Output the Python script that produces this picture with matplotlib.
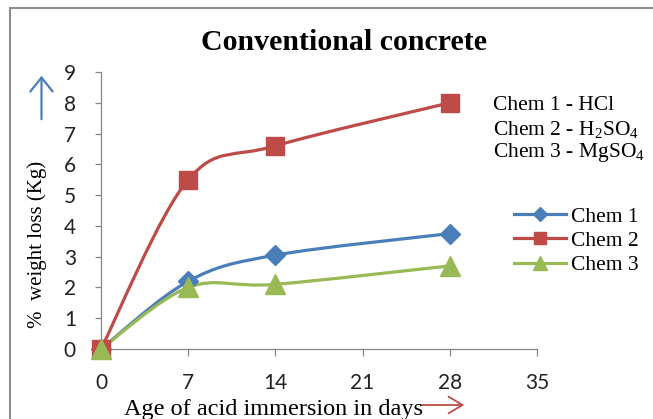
import numpy as np
import matplotlib
matplotlib.use('Agg')
import matplotlib.pyplot as plt
from matplotlib.path import Path
from matplotlib.patches import PathPatch, Rectangle
from matplotlib.lines import Line2D

# dados
dias = [0, 7, 14, 28]
chem1 = [0, 2.2, 3.05, 3.75]
chem2 = [0, 5.5, 6.6, 8.0]
chem3 = [0, 2.0, 2.1, 2.7]
rotulos = ['Chem 1', 'Chem 2', 'Chem 3']
quimicos = ['Chem 1 - HCl', r'Chem 2 - H$_2$SO$_4$', r'Chem 3 - MgSO$_4$']
xticks = [0, 7, 14, 21, 28, 35]
yticks = list(range(0, 10))

plt.rcParams['mathtext.fontset'] = 'custom'
plt.rcParams['mathtext.rm'] = 'Liberation Serif'
plt.rcParams['mathtext.it'] = 'Liberation Serif:italic'

estilos = [
    {'color': '#4A7EBB', 'marker': 'D', 'ms': 10, 'lms': 7},
    {'color': '#BE4B48', 'marker': 's', 'ms': 13, 'lms': 9},
    {'color': '#98B954', 'marker': '^', 'ms': 14, 'lms': 10},
]


def curva_suave(x, y):
    # caminho bezier (tipo "linha suavizada" do Excel) passando pelos pontos
    p = np.column_stack([x, y]).astype(float)
    n = len(p)
    verts = [p[0]]
    codes = [Path.MOVETO]
    for i in range(n - 1):
        p0 = p[i - 1] if i > 0 else p[i]
        p3 = p[i + 2] if i + 2 < n else p[i + 1]
        c1 = p[i] + (p[i + 1] - p0) / 6.0
        c2 = p[i + 1] - (p3 - p[i]) / 6.0
        verts += [c1, c2, p[i + 1]]
        codes += [Path.CURVE4] * 3
    return Path(verts, codes)


fig = plt.figure(figsize=(6.53, 4.19), dpi=100)
W, H = 653.0, 419.0
ax = fig.add_axes([101 / W, 1 - 349 / H, 436 / W, 277 / H])

handles = []
for serie, est, rot in zip([chem1, chem2, chem3], estilos, rotulos):
    ax.add_patch(PathPatch(curva_suave(dias, serie), fill=False,
                           edgecolor=est['color'], linewidth=2.3,
                           capstyle='round', joinstyle='round'))
    ax.plot(dias, serie, linestyle='none', marker=est['marker'],
            markersize=est['ms'], color=est['color'], clip_on=False, zorder=3)
    handles.append(Line2D([], [], color=est['color'], linewidth=2.3,
                          marker=est['marker'], markersize=est['lms']))

ax.set_xlim(0, 35)
ax.set_ylim(0, 9)
ax.set_xticks(xticks)
ax.set_yticks(yticks)
for lado in ['top', 'right']:
    ax.spines[lado].set_visible(False)
for lado in ['left', 'bottom']:
    ax.spines[lado].set_color('#868686')
    ax.spines[lado].set_linewidth(0.9)
ax.tick_params(axis='x', length=5, width=0.9, color='#868686', pad=12,
               labelsize=15, labelcolor='#222222')
ax.tick_params(axis='y', length=4, width=0.9, color='#868686', pad=14,
               labelsize=15, labelcolor='#222222')
for t in ax.get_xticklabels() + ax.get_yticklabels():
    t.set_fontfamily('Lato')

fig.text(344 / W, 1 - 42 / H, 'Conventional concrete', ha='center',
         va='center', fontsize=21.5, fontweight='bold',
         family='Liberation Serif')
fig.text(37 / W, 1 - 244 / H, '%  weight loss (Kg)', rotation=90,
         ha='center', va='center', fontsize=15, family='Liberation Serif')
fig.text(273 / W, 1 - 409 / H, 'Age of acid immersion in days',
         ha='center', va='center', fontsize=17.5, family='Liberation Serif')

for i, q in enumerate(quimicos):
    fig.text(493 / W, 1 - (105 + 24 * i) / H, q, ha='left', va='center',
             fontsize=15.5, family='Liberation Serif')

fig.legend(handles, rotulos, loc='center left',
           bbox_to_anchor=(495 / W, 1 - 241 / H), frameon=False,
           prop={'family': 'Liberation Serif', 'size': 15.5},
           handlelength=2.4, handletextpad=0.25, labelspacing=0.2)

# setas dos eixos
fig.add_artist(matplotlib.patches.FancyArrowPatch(
    (41.5 / W, 1 - 122 / H), (41.5 / W, 1 - 73 / H),
    transform=fig.transFigure, arrowstyle='->,head_length=0.5,head_width=0.4',
    mutation_scale=20, color='#4A7EBB', linewidth=1.6))
fig.add_artist(matplotlib.patches.FancyArrowPatch(
    (418 / W, 1 - 405 / H), (467 / W, 1 - 405 / H),
    transform=fig.transFigure, arrowstyle='->,head_length=0.5,head_width=0.3',
    mutation_scale=20, color='#BE4B48', linewidth=1.3))

# moldura da area do grafico
fig.add_artist(Rectangle((10 / W, -0.2), 2.0, 1.2 - 8 / H,
                         transform=fig.transFigure, fill=False,
                         edgecolor='#8c8c8c', linewidth=1.5, clip_on=False))

fig.savefig('out.png', dpi=100)
